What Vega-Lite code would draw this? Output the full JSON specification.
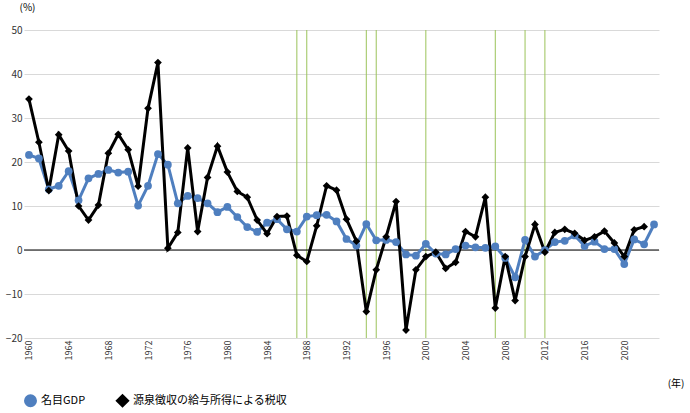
{
  "$schema": "https://vega.github.io/schema/vega-lite/v6.json",
  "width": 635,
  "height": 308,
  "padding": {"left": 5, "top": 2, "right": 10, "bottom": 2},
  "background": "white",
  "config": {
    "view": {"stroke": null},
    "font": "Noto Sans CJK JP",
    "axis": {"labelFont": "Noto Sans CJK JP", "titleFont": "Noto Sans CJK JP", "labelColor": "#333", "labelFontSize": 10, "titleFontSize": 10, "titleFontWeight": "normal"}
  },
  "datasets": {
    "series": [
      {"year":1960,"gdp":21.6,"tax":34.3},{"year":1961,"gdp":20.8,"tax":24.5},{"year":1962,"gdp":13.8,"tax":13.5},
      {"year":1963,"gdp":14.6,"tax":26.2},{"year":1964,"gdp":17.9,"tax":22.5},{"year":1965,"gdp":11.3,"tax":10.0},
      {"year":1966,"gdp":16.3,"tax":6.8},{"year":1967,"gdp":17.3,"tax":10.2},{"year":1968,"gdp":18.2,"tax":22.0},
      {"year":1969,"gdp":17.6,"tax":26.3},{"year":1970,"gdp":17.8,"tax":22.8},{"year":1971,"gdp":10.1,"tax":14.5},
      {"year":1972,"gdp":14.6,"tax":32.2},{"year":1973,"gdp":21.8,"tax":42.6},{"year":1974,"gdp":19.4,"tax":0.4},
      {"year":1975,"gdp":10.6,"tax":4.0},{"year":1976,"gdp":12.3,"tax":23.2},{"year":1977,"gdp":11.8,"tax":4.2},
      {"year":1978,"gdp":10.6,"tax":16.5},{"year":1979,"gdp":8.6,"tax":23.6},{"year":1980,"gdp":9.8,"tax":17.7},
      {"year":1981,"gdp":7.5,"tax":13.3},{"year":1982,"gdp":5.2,"tax":12.0},{"year":1983,"gdp":4.1,"tax":6.8},
      {"year":1984,"gdp":6.2,"tax":3.7},{"year":1985,"gdp":7.0,"tax":7.6},{"year":1986,"gdp":4.7,"tax":7.7},
      {"year":1987,"gdp":4.2,"tax":-1.2},{"year":1988,"gdp":7.6,"tax":-2.6},{"year":1989,"gdp":7.9,"tax":5.5},
      {"year":1990,"gdp":8.0,"tax":14.6},{"year":1991,"gdp":6.5,"tax":13.6},{"year":1992,"gdp":2.5,"tax":7.0},
      {"year":1993,"gdp":1.0,"tax":2.0},{"year":1994,"gdp":5.9,"tax":-14.0},{"year":1995,"gdp":2.2,"tax":-4.5},
      {"year":1996,"gdp":2.3,"tax":3.0},{"year":1997,"gdp":1.8,"tax":11.0},{"year":1998,"gdp":-1.0,"tax":-18.2},
      {"year":1999,"gdp":-1.3,"tax":-4.5},{"year":2000,"gdp":1.4,"tax":-1.5},{"year":2001,"gdp":-0.8,"tax":-0.5},
      {"year":2002,"gdp":-1.0,"tax":-4.2},{"year":2003,"gdp":0.2,"tax":-2.8},{"year":2004,"gdp":1.0,"tax":4.2},
      {"year":2005,"gdp":0.6,"tax":3.0},{"year":2006,"gdp":0.5,"tax":12.0},{"year":2007,"gdp":0.8,"tax":-13.2},
      {"year":2008,"gdp":-1.8,"tax":-1.5},{"year":2009,"gdp":-6.2,"tax":-11.5},{"year":2010,"gdp":2.3,"tax":-1.5},
      {"year":2011,"gdp":-1.5,"tax":5.8},{"year":2012,"gdp":0.0,"tax":-0.5},{"year":2013,"gdp":1.8,"tax":4.0},
      {"year":2014,"gdp":2.1,"tax":4.7},{"year":2015,"gdp":3.3,"tax":3.8},{"year":2016,"gdp":0.9,"tax":2.2},
      {"year":2017,"gdp":1.9,"tax":3.0},{"year":2018,"gdp":0.2,"tax":4.3},{"year":2019,"gdp":0.2,"tax":1.6},
      {"year":2020,"gdp":-3.2,"tax":-1.5},{"year":2021,"gdp":2.4,"tax":4.6},{"year":2022,"gdp":1.3,"tax":5.3},
      {"year":2023,"gdp":5.8,"tax":null}
    ],
    "marks": [{"year":1987},{"year":1988},{"year":1994},{"year":1995},{"year":2000},{"year":2007},{"year":2010},{"year":2012}]
  },
  "layer": [
    {
      "data": {"name": "marks"},
      "mark": {"type": "rule", "color": "#9bc35a", "strokeWidth": 1},
      "encoding": {"x": {"field": "year", "type": "quantitative"}}
    },
    {
      "data": {"values": [{"v": 0}]},
      "mark": {"type": "rule", "color": "black", "strokeWidth": 1},
      "encoding": {"y": {"field": "v", "type": "quantitative"}}
    },
    {
      "data": {"name": "series"},
      "transform": [
        {"fold": ["gdp", "tax"], "as": ["key", "value"]},
        {"filter": "datum.value != null"},
        {"calculate": "datum.key == 'gdp' ? '名目GDP' : '源泉徴収の給与所得による税収'", "as": "series"}
      ],
      "mark": {"type": "line", "strokeWidth": 3, "point": {"size": 60, "filled": true}},
      "encoding": {
        "x": {
          "field": "year", "type": "quantitative",
          "scale": {"domain": [1959.5, 2023.5], "nice": false, "zero": false},
          "axis": {"values": [1960,1962,1964,1966,1968,1970,1972,1974,1976,1978,1980,1982,1984,1986,1988,1990,1992,1994,1996,1998,2000,2002,2004,2006,2008,2010,2012,2014,2016,2018,2020,2022],
                   "format": "d", "labelAngle": -90, "labelOverlap": false, "labelFontSize": 9, "grid": false, "domain": false, "ticks": false,
                   "title": "(年)", "titleAngle": 0, "titleAnchor": "end", "titleX": 660, "titleY": 40}
        },
        "y": {
          "field": "value", "type": "quantitative",
          "scale": {"domain": [-20, 50], "nice": false},
          "axis": {"values": [-20,-10,0,10,20,30,40,50], "grid": true, "gridColor": "#d9d9d9", "domain": false, "ticks": false,
                   "title": "(%)", "titleAngle": 0, "titleX": -5, "titleY": -18, "titleAlign": "left"}
        },
        "color": {
          "field": "series", "type": "nominal",
          "scale": {"domain": ["名目GDP", "源泉徴収の給与所得による税収"], "range": ["#4f7fbf", "#000000"]},
          "legend": {"orient": "bottom", "title": null, "direction": "horizontal", "offset": 6, "labelFontSize": 11, "symbolStrokeWidth": 3, "columnPadding": 25}
        },
        "shape": {
          "field": "series", "type": "nominal",
          "scale": {"domain": ["名目GDP", "源泉徴収の給与所得による税収"], "range": ["circle", "diamond"]},
          "legend": null
        }
      }
    }
  ]
}
